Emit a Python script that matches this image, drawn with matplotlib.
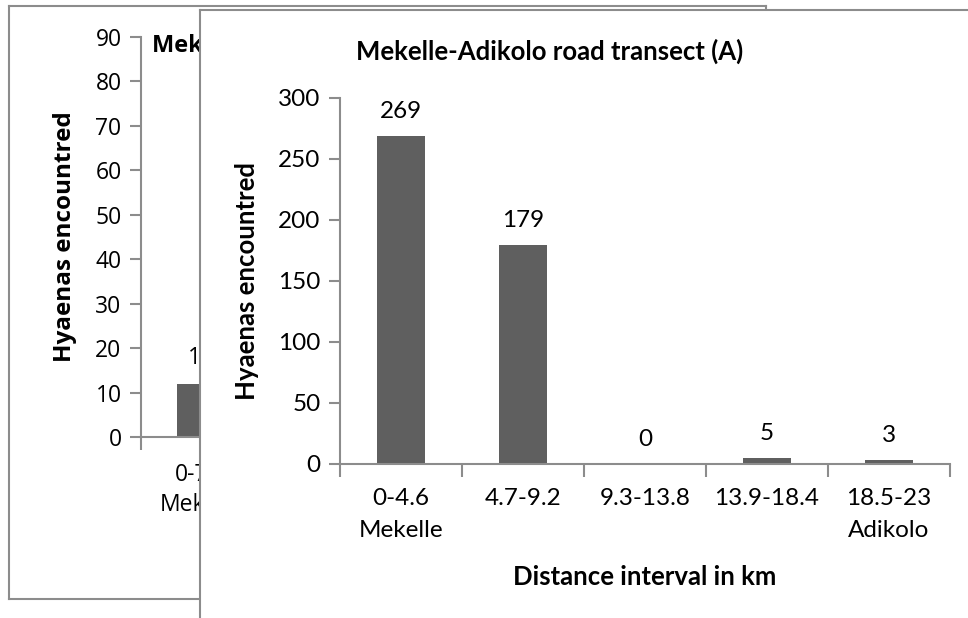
import numpy as np
import matplotlib.pyplot as plt

# chart (A), the one in front
front_labels = ['0-4.6\nMekelle', '4.7-9.2', '9.3-13.8', '13.9-18.4', '18.5-23\nAdikolo']
front_values = [269, 179, 0, 5, 3]
front_yticks = [0, 50, 100, 150, 200, 250, 300]

# chart behind it, only its first bar is visible
back_labels = ['0-7.6\nMekelle']
back_values = [12]
back_yticks = [0, 10, 20, 30, 40, 50, 60, 70, 80, 90]

bar_color = '#5f5f5f'
grey = '#8c8c8c'

plt.rcParams['font.family'] = ['Lato', 'DejaVu Sans']

W, H = 968, 618


def box(left, top, right, bottom):
    # pixel box (from top-left) -> figure rect
    return [left / W, 1 - bottom / H, (right - left) / W, (bottom - top) / H]


fig = plt.figure(figsize=(W / 100, H / 100), dpi=100)


def panel(rect, z):
    a = fig.add_axes(rect, zorder=z)
    a.set_xticks([])
    a.set_yticks([])
    a.set_facecolor('white')
    for s in a.spines.values():
        s.set_color(grey)
        s.set_linewidth(1.5)
    return a


def bar_chart(ax, labels, values, yticks, n_slots, family, size, pad, spacing):
    x = np.arange(len(values))
    bars = ax.bar(x, values, width=0.4, color=bar_color, zorder=2)
    ax.bar_label(bars, padding=10, fontsize=size, family=family)
    ax.set_xlim(-0.5, n_slots - 0.5)
    ax.set_ylim(yticks[0], yticks[-1])
    ax.set_yticks(yticks)
    ax.set_xticks(x)
    ax.set_xticklabels(labels)
    ax.set_xticks(np.arange(n_slots + 1) - 0.5, minor=True)
    ax.tick_params(axis='x', which='major', length=0, pad=pad, labelsize=size)
    ax.tick_params(axis='x', which='minor', length=9, width=1.5, color=grey, direction='out')
    ax.tick_params(axis='y', length=8, width=1.5, color=grey, direction='out', pad=6, labelsize=size)
    ax.set_facecolor('none')
    for s in ['top', 'right']:
        ax.spines[s].set_visible(False)
    for s in ['left', 'bottom']:
        ax.spines[s].set_color(grey)
        ax.spines[s].set_linewidth(1.5)
    for t in ax.get_xticklabels() + ax.get_yticklabels():
        t.set_fontfamily(family)
    for t in ax.get_xticklabels():
        t.set_linespacing(spacing)


# back panel
back_bg = panel(box(9, 6, 766, 599), 0)
back_ax = fig.add_axes(box(141, 37, 741, 437), zorder=1)
bar_chart(back_ax, back_labels, back_values, back_yticks, 5, 'Open Sans', 16.5, 19, 1.3)
back_ax.set_ylabel('Hyaenas encountred', fontsize=17.5, fontweight='bold', family='Open Sans')
back_ax.yaxis.set_label_coords(-0.127, 0.5)
back_ax.yaxis.label.set_va('center')
back_ax.text(0.018, 0.977, 'Mekelle (B)', transform=back_ax.transAxes,
             ha='left', va='center', fontsize=17, fontweight='bold', family='Open Sans')

# front panel, runs off the right and bottom edges
front_bg = panel(box(200, 10, 1100, 700), 2)
front_ax = fig.add_axes(box(340, 97.7, 950, 463.7), zorder=3)
bar_chart(front_ax, front_labels, front_values, front_yticks, 5, 'Lato', 17.5, 17.5, 1.65)
front_ax.set_ylabel('Hyaenas encountred', fontsize=18.5, fontweight='bold')
front_ax.yaxis.set_label_coords(-0.152, 0.5)
front_ax.yaxis.label.set_va('center')
front_ax.set_xlabel('Distance interval in km', fontsize=18.5, fontweight='bold')
front_ax.xaxis.set_label_coords(0.5, -0.31)
front_ax.xaxis.label.set_va('center')
front_ax.text(0.344, 1.127, 'Mekelle-Adikolo road transect (A)', transform=front_ax.transAxes,
              ha='center', va='center', fontsize=18.5, fontweight='bold')

fig.savefig('out.png', dpi=100)
